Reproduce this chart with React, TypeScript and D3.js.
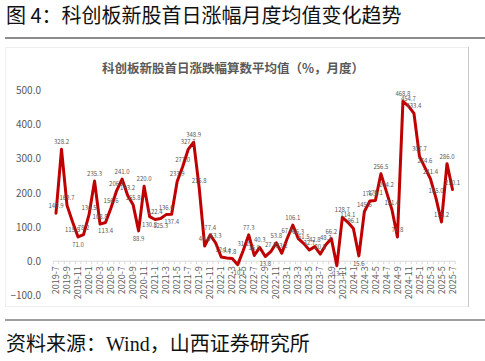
import React from 'react';
import * as d3 from 'd3';

// 2019-7 .. 2025-7, monthly
const months: string[] = [
  '2019-7', '2019-8', '2019-9', '2019-10', '2019-11', '2019-12',
  '2020-1', '2020-2', '2020-3', '2020-4', '2020-5', '2020-6', '2020-7', '2020-8', '2020-9', '2020-10', '2020-11', '2020-12',
  '2021-1', '2021-2', '2021-3', '2021-4', '2021-5', '2021-6', '2021-7', '2021-8', '2021-9', '2021-10', '2021-11', '2021-12',
  '2022-1', '2022-2', '2022-3', '2022-4', '2022-5', '2022-6', '2022-7', '2022-8', '2022-9', '2022-10', '2022-11', '2022-12',
  '2023-1', '2023-2', '2023-3', '2023-4', '2023-5', '2023-6', '2023-7', '2023-8', '2023-9', '2023-10', '2023-11', '2023-12',
  '2024-1', '2024-2', '2024-3', '2024-4', '2024-5', '2024-6', '2024-7', '2024-8', '2024-9', '2024-10', '2024-11', '2024-12',
  '2025-1', '2025-2', '2025-3', '2025-4', '2025-5', '2025-6', '2025-7',
];

// 首日涨跌幅算数平均值（%）
const avgGain: number[] = [
  140.9, 328.2, 163.7, 115.5, 71.0, 78.2,
  136.5, 235.3, 108.8, 113.4, 156.6, 206.4, 241.0, 193.2, 165.8, 88.9, 220.0, 130.8,
  122.4, 125.3, 136.6, 137.4, 233.9, 277.0, 327.7, 348.9, 215.8, 44.6, 77.4, 53.3,
  12.1, 9.4, 7.8, -10.1, 31.2, 77.3, 16.9, 40.3, 13.8, 27.8, 53.8, 23.2,
  67.4, 106.1, 66.3, 51.5, 32.7, 42.8, 20.8, 48.3, 66.2, -13.1, 128.7, 114.1,
  96.1, 15.6, 145.6, 176.5, 178.1, 256.5, 204.2, 151.4, 70.8, 468.8, 454.7, 433.4,
  307.7, 274.6, 241.4, 185.0, 115.2, 286.0, 210.1,
];

const yTicks: number[] = [-100, 0, 100, 200, 300, 400, 500];

// points whose value label sits under the line
const labelsBelow: number[] = [3, 4, 9, 15, 17, 19, 21, 33, 38, 51, 55];

const W = 485;
const H = 361;

export default function App() {
  const x = d3.scalePoint<string>().domain(months).range([56, 452.5]);
  const y = d3.scaleLinear().domain([-100, 500]).range([295.3, 90.7]);
  const step = x.step();
  const y0 = y(0);
  const fmt = d3.format('.1f');

  const line = d3
    .line<number>()
    .x((_, i) => x(months[i]) as number)
    .y((d) => y(d));

  const cjk = '"Noto Sans CJK SC", "Noto Sans", sans-serif';

  return (
    <div style={{ position: 'fixed', left: 0, top: 0, width: W, height: H, background: '#fff' }}>
      <svg width={W} height={H} style={{ display: 'block' }}>
        <rect width={W} height={H} fill="#fff" />

        {/* heading */}
        <text x={6} y={23} fontFamily={cjk} fontSize={20} fill="#111">
          图 4：科创板新股首日涨幅月度均值变化趋势
        </text>
        <line x1={5} x2={W} y1={38} y2={38} stroke="#8c8c8c" strokeWidth={2} />

        {/* chart frame */}
        <rect x={5.5} y={47.5} width={463} height={259} fill="none" stroke="#eeeeee" />
        <line x1={468.5} x2={468.5} y1={47} y2={307} stroke="#c8c8c8" />

        <text x={233} y={73} textAnchor="middle" fontFamily={cjk} fontSize={12.5}
          fontWeight="bold" fill="#595959">
          科创板新股首日涨跌幅算数平均值（%，月度）
        </text>

        {/* y axis labels */}
        {yTicks.map((t) => (
          <text key={t} x={41} y={y(t)} dy="0.35em" textAnchor="end"
            fontFamily={cjk} fontSize={10} fill="#595959">
            {fmt(t)}
          </text>
        ))}

        {/* x axis */}
        <line x1={(x(months[0]) as number) - step / 2} x2={(x(months[months.length - 1]) as number) + step / 2}
          y1={y0} y2={y0} stroke="#d9d9d9" />
        {d3.range(months.length + 1).map((i) => {
          const tx = (x(months[0]) as number) + (i - 0.5) * step;
          return <line key={i} x1={tx} x2={tx} y1={y0} y2={y0 + 3} stroke="#d9d9d9" />;
        })}
        {months.map((m, i) =>
          i % 2 === 0 ? (
            <text key={m} transform={`translate(${x(m)},${y0 + 5}) rotate(-90)`}
              textAnchor="end" dy="0.35em" fontFamily={cjk} fontSize={9} fill="#595959">
              {m}
            </text>
          ) : null
        )}

        {/* series */}
        <path d={line(avgGain) || ''} fill="none" stroke="#c00000" strokeWidth={3}
          strokeLinejoin="round" strokeLinecap="round" />

        {avgGain.map((v, i) => {
          const below = labelsBelow.includes(i);
          return (
            <text key={i} x={x(months[i])} y={y(v) + (below ? 10 : -5)} textAnchor="middle"
              fontFamily={cjk} fontSize={6} fill="#595959">
              {fmt(v)}
            </text>
          );
        })}

        {/* source */}
        <line x1={5} x2={W} y1={320} y2={320} stroke="#404040" strokeWidth={1.2} />
        <text x={6} y={351} fontFamily={'"Liberation Serif", "Noto Sans CJK SC", serif'} fontSize={20} fill="#111">
          资料来源：Wind，山西证券研究所
        </text>
      </svg>
    </div>
  );
}
